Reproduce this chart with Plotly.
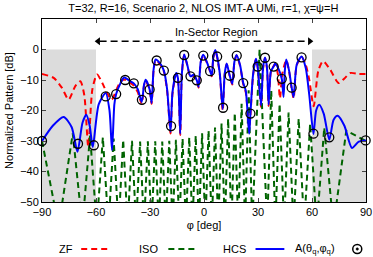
import plotly.graph_objects as go

# ---------------- data ----------------
N = -58  # nulls of the ISO pattern fall far below the axis floor

iso_phi = [-90, -80.75, -72.9, -67.6, -63.3, -59.55, -56.2, -53.08, -50.2, -47.48,
           -44.9, -42.42, -40.0, -37.73, -35.5, -33.33, -31.2, -29.14, -27.1, -25.12,
           -23.2, -21.22, -19.3, -17.43, -15.6, -13.71, -11.9, -10.05, -8.2, -6.43,
           -4.6, -2.84, -1.05, 0.74, 2.54, 4.33, 6.13, 7.93, 9.75, 11.57,
           13.4, 15.25, 17.1, 19.0, 20.9, 22.83, 24.8, 26.78, 30.87, 35.13,
           37.36, 39.64, 42.0, 44.47, 47.0, 49.73, 52.6, 55.64, 58.96, 62.62,
           66.8, 71.9, 79.05, 90]
iso_db = [-30, N, -27.5, N, -28.2, N, -28.8, N, -29.2, N,
          -29.6, N, -29.9, N, -30.2, N, -30.1, N, -30.1, N,
          -30.2, N, -29.9, N, -29.6, N, -29.2, N, -28.8, N,
          -28.2, N, -27.5, N, -26.6, N, -25.6, N, -24.3, N,
          -22.7, N, -20.7, N, -17.8, N, -13.4, N, 0, N,
          -13.4, N, -17.8, N, -20.7, N, -22.7, N, -24.3, N,
          -25.6, N, -26.6, -30]

zf_phi = [-90, -83.5, -79, -75.2, -71.5, -68.7, -66.5, -64.3, -62, -59.4,
          -56.5, -53.9, -51.3, -48.5, -46.5, -44.4, -41.5, -39.0, -36.8, -34.6,
          -33.3, -32.4, -30.2, -29.1, -28.0, -26.9, -24.5, -22.3, -20.5, -18.6,
          -17.5, -15.4, -14.5, -13.2, -12.3, -11.0, -9.3, -7.5, -5.8, -4.0,
          -3.0, -1.8, -0.4, 1.5, 3.4, 4.3, 5.2, 6.3, 7.3, 8.8,
          10.4, 11.5, 12.6, 14.3, 15.7, 16.9, 18.1, 20.0, 21.8, 23.2,
          25.1, 25.8, 27.3, 28.9, 29.8, 31.7, 32.8, 33.9, 35.0, 35.9,
          37.2, 39.5, 41.0, 42.2, 43.5, 45.7, 47.3, 48.7, 49.8, 51.5,
          54.2, 56.5, 58.5, 60.9, 63.5, 66.1, 70, 74.8, 78, 81.3,
          86, 90]
zf_db = [-8, -9.3, -12.5, -16.4, -12, -10.4, -15, -31.8, -13, -8.2,
         -11, -14.2, -16.4, -13, -10.6, -9.8, -10.8, -11.8, -14, -17.8,
         -11.8, -10.2, -13.4, -17.8, -6.8, -3.5, -4.8, -7.2, -13.5, -27.5,
         -14.5, -8, -9.6, -28, -8.3, -1.8, -5.2, -9, -8.5, -10.3,
         -12.5, -4.2, -1.9, -4.2, -7.3, -8.8, -2.7, -0.4, -2.5, -8.3,
         -20, -8.3, -4.8, -8.8, -11.5, -4.2, -2, -5.3, -11.3, -14,
         -25.5, -21.5, -8.3, -3.2, -5.8, -18.8, -6.3, -2.8, -6.3, -18.5,
         -7.3, -4.8, -8, -16, -8, -3.5, -7.3, -12.8, -16, -5.2,
         -2.4, -5, -10, -18.6, -7, -3.8, -6.5, -11, -9.5, -7.7,
         -8, -8]

hcs_phi = [-90, -84, -78, -73.5, -70.3, -67.5, -65.4, -63.5, -61.8, -58.5,
           -54.6, -52.5, -51.1, -49.8, -48.8, -46.5, -44.4, -41.5, -39.0, -36.8,
           -34.6, -33.3, -32.4, -30.2, -29.1, -28.0, -26.9, -24.5, -22.3, -20.5,
           -18.6, -17.5, -15.4, -14.5, -13.2, -12.3, -11.0, -9.3, -7.5, -5.8,
           -4.0, -3.0, -1.8, -0.4, 1.5, 3.4, 4.3, 5.2, 6.3, 7.3,
           8.8, 10.4, 11.5, 12.6, 14.3, 15.7, 16.9, 18.1, 20.0, 21.8,
           23.2, 25.1, 25.8, 27.3, 28.9, 29.8, 31.7, 32.8, 33.9, 35.0,
           35.9, 37.2, 38.7, 39.5, 41.5, 43.2, 44.2, 44.9, 45.7, 47.3,
           48.7, 49.8, 51.5, 54.2, 56.5, 58.5, 60.8, 62.3, 64.0, 66.5,
           69.6, 72, 74.3, 78, 82.2, 86, 90]
hcs_db = [-30, -25, -22.1, -25.5, -33.5, -24, -21.4, -25, -32, -18,
          -14.3, -20, -33, -18, -14.6, -11.2, -9.2, -10.2, -11.1, -13,
          -17.2, -11.5, -9.9, -13.1, -17.5, -6.5, -3.3, -4.5, -6.9, -13,
          -27, -14, -7.7, -9.3, -27.6, -8, -1.6, -5, -8.8, -8.3,
          -10.1, -12.2, -4, -1.7, -4, -7.1, -8.5, -2.5, -0.2, -2.3,
          -8, -19.5, -8, -4.6, -8.6, -11.2, -4, -1.8, -5, -11.0,
          -13.5, -27.6, -21.0, -8, -3.0, -5.6, -18.3, -6, -2.6, -6,
          -18, -7, -5.6, -4.6, -6.5, -9.6, -15.6, -7, -3.3, -7,
          -12.5, -15.6, -5, -2.3, -6, -15, -27.7, -20, -18.1, -21,
          -29.6, -23, -21.7, -25, -32.3, -30.2, -29.8]

mk_phi = [-90, -70, -61.2, -54.6, -48.8, -43.8, -39.0, -34.5, -30.2, -26.3,
          -22.3, -18.3, -14.5, -11.0, -7.5, -4.0, -0.4, 3.4, 7.3, 10.6,
          14.3, 18.2, 21.8, 25.8, 29.8, 33.9, 38.7, 43.2, 48.7, 54.2,
          60.8, 69.6, 89.8]
mk_db = [-30, -30.9, -31.4, -15.4, -14.6, -10.0, -11.1, -16.5, -13.1, -3.6,
         -6.9, -25.1, -9.3, -1.8, -8.8, -10.1, -2.0, -7.1, -2.3, -19.1,
         -8.6, -2.0, -11.0, -21.0, -5.6, -2.7, -5.6, -9.6, -12.5, -2.6,
         -27.6, -28.8, -29.8]

sector = [-60, 60]
x_ticks = [-90, -60, -30, 0, 30, 60, 90]
y_ticks = [-50, -40, -30, -20, -10, 0]

RED, GREEN, BLUE = "#ff0000", "#006400", "#0000ff"
FONT = "Liberation Sans, Arial, sans-serif"

fig = go.Figure()
fig.add_trace(go.Scatter(x=zf_phi, y=zf_db, mode="lines", name="ZF",
                         line=dict(color=RED, width=2, dash="6px,4px", shape="spline", smoothing=0.7)))
fig.add_trace(go.Scatter(x=iso_phi, y=iso_db, mode="lines", name="ISO",
                         line=dict(color=GREEN, width=2, dash="6px,4px")))
fig.add_trace(go.Scatter(x=hcs_phi, y=hcs_db, mode="lines", name="HCS",
                         line=dict(color=BLUE, width=2, shape="spline", smoothing=0.7)))
fig.add_trace(go.Scatter(x=mk_phi, y=mk_db, mode="markers", name="A",
                         marker=dict(symbol="circle-open", size=9, color="black",
                                     line=dict(width=1.3, color="black")),
                         cliponaxis=False))

# grey out-of-sector regions
for x0, x1 in [(-90, sector[0]), (sector[1], 90)]:
    fig.add_shape(type="rect", xref="x", yref="y", x0=x0, x1=x1, y0=-50, y1=0,
                  fillcolor="#dcdcdc", line=dict(width=0), layer="below")

# in-sector arrow: dashed shaft + triangular heads at the sector limits
arrow_y = 2.7
fig.add_shape(type="line", xref="x", yref="y", x0=sector[0] + 2, x1=sector[1] - 2,
              y0=arrow_y, y1=arrow_y, line=dict(color="black", width=1.5, dash="7px,4px"))
fig.add_trace(go.Scatter(x=[sector[0] + 1.2, sector[1] - 1.2], y=[arrow_y, arrow_y], mode="markers",
                         marker=dict(symbol=["triangle-left", "triangle-right"], size=7,
                                     color="black", line=dict(width=0)),
                         hoverinfo="skip", cliponaxis=False))
fig.add_annotation(x=7, y=5.6, xref="x", yref="y", text="In-Sector Region",
                   showarrow=False, font=dict(family=FONT, size=11, color="black"))

# manual legend (text left of symbol, as in the reference)
ly = -0.257
legend_items = [
    ("ZF", 0.101, (0.121, 0.211), dict(color=RED, width=2, dash="6px,4px")),
    ("ISO", 0.365, (0.390, 0.480), dict(color=GREEN, width=2, dash="6px,4px")),
    ("HCS", 0.637, (0.659, 0.748), dict(color=BLUE, width=2)),
]
for label, tx, (l0, l1), ln in legend_items:
    fig.add_annotation(x=tx, y=ly, xref="paper", yref="paper", text=label, showarrow=False,
                       xanchor="right", yanchor="middle",
                       font=dict(family=FONT, size=11, color="black"))
    fig.add_shape(type="line", xref="paper", yref="paper", x0=l0, x1=l1, y0=ly, y1=ly, line=ln)
fig.add_annotation(x=0.909, y=ly, xref="paper", yref="paper",
                   text="A(θ<sub>q</sub>,φ<sub>q</sub>)", showarrow=False,
                   xanchor="right", yanchor="middle",
                   font=dict(family=FONT, size=11, color="black"))
fig.add_shape(type="circle", xref="paper", yref="paper", xsizemode="pixel", ysizemode="pixel",
              xanchor=0.973, yanchor=ly, x0=-4.5, x1=4.5, y0=-4.5, y1=4.5,
              line=dict(color="black", width=1.5))
fig.add_shape(type="circle", xref="paper", yref="paper", xsizemode="pixel", ysizemode="pixel",
              xanchor=0.973, yanchor=ly, x0=-1.2, x1=1.2, y0=-1.2, y1=1.2,
              fillcolor="black", line=dict(color="black", width=0.5))

fig.update_layout(
    width=373, height=257,
    margin=dict(l=42, r=7, t=19, b=55, autoexpand=False),
    paper_bgcolor="white", plot_bgcolor="white",
    showlegend=False,
    font=dict(family=FONT, size=11, color="black"),
    title=dict(text="T=32, R=16, Scenario 2, NLOS IMT-A UMi, r=1, χ=ψ=H",
               x=0.545, xref="container", xanchor="center", y=0.968, yref="container",
               yanchor="middle", automargin=False,
               font=dict(family=FONT, size=11, color="black")),
)
fig.update_xaxes(range=[-90, 90], tickvals=x_ticks, ticks="inside", ticklen=4,
                 showline=True, linecolor="black", linewidth=1, mirror="ticks",
                 showgrid=False, zeroline=False, automargin=False,
                 title=dict(text="φ [deg]", standoff=4, font=dict(family=FONT, size=11)))
fig.update_yaxes(range=[-50, 10], tickvals=y_ticks, ticks="inside", ticklen=4,
                 showline=True, linecolor="black", linewidth=1, mirror="ticks",
                 showgrid=False, zeroline=False, automargin=False,
                 title=dict(text="Normalized Pattern [dB]", standoff=4, font=dict(family=FONT, size=11)))

fig.write_html("out.html", config={"displayModeBar": False},
               post_script="document.body.style.margin='0';document.body.style.padding='0';")
